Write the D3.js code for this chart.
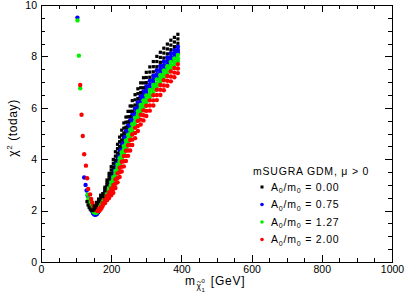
<!DOCTYPE html>
<html><head><meta charset="utf-8">
<script src="https://cdn.jsdelivr.net/npm/d3@7"></script>
<style>body{margin:0;background:#fff} svg{display:block;font-family:"Liberation Sans",Arial,Helvetica,sans-serif}</style>
</head><body><svg id="c" width="405" height="294"></svg>
<script>
// ---- data ----
const xMajor = [0,200,400,600,800,1000];
const yMajor = [0,2,4,6,8,10];
const massGrid = [176,182,188,194,200,206,212,218,224,230,236,242,248,254,260,268,276,284,292,300,310,320,330,340,350,360,370,380,390];

const black1 = [2.66,2.91,3.19,3.45,3.71,3.99,4.29,4.58,4.86,5.13,5.41,5.64,5.86,6.07,6.28,6.51,6.74,6.97,7.17,7.38,7.59,7.80,8.00,8.16,8.32,8.48,8.63,8.74,8.86];
const black2 = [2.60,2.84,3.09,3.34,3.58,3.84,4.12,4.41,4.68,4.94,5.21,5.44,5.65,5.86,6.07,6.31,6.55,6.78,6.97,7.18,7.39,7.60,7.80,7.96,8.13,8.29,8.44,8.56,8.68];
const black3 = [2.55,2.77,3.00,3.23,3.45,3.69,3.96,4.24,4.50,4.75,5.01,5.24,5.45,5.66,5.87,6.11,6.36,6.59,6.78,6.98,7.19,7.40,7.60,7.77,7.94,8.10,8.26,8.38,8.51];
const blackLow = [[131,2.35],[134,2.22],[137,2.13],[140,2.06],[143,2.02],[146,2.0],[149,2.02],[152,2.07],[155,2.13],[158,2.2],[161,2.27],[164,2.35],[167,2.42],[170,2.5],[173,2.57],[152,2.18],[158,2.32],[164,2.45],[170,2.6]];

const blue1 = [2.51,2.71,2.93,3.14,3.36,3.57,3.84,4.11,4.37,4.62,4.87,5.09,5.31,5.52,5.73,5.97,6.22,6.45,6.64,6.84,7.05,7.25,7.46,7.63,7.80,7.96,8.12,8.25,8.38];
const blue2 = [2.47,2.66,2.87,3.06,3.26,3.46,3.72,3.98,4.23,4.48,4.73,4.95,5.16,5.37,5.58,5.83,6.08,6.31,6.50,6.69,6.90,7.11,7.31,7.49,7.66,7.82,7.98,8.11,8.25];
const blue3 = [2.43,2.61,2.81,2.99,3.18,3.37,3.61,3.87,4.12,4.36,4.60,4.82,5.03,5.24,5.45,5.70,5.95,6.19,6.38,6.57,6.78,6.98,7.19,7.37,7.53,7.70,7.86,8.00,8.14];
const blueLow = [[103.7,9.51],[123,3.29],[127,3.0],[130,2.78],[133,2.58],[136,2.4],[139,2.24],[142,2.1],[145,1.99],[148,1.91],[151,1.86],[154,1.84],[157,1.85],[160,1.88],[163,1.94],[166,2.02],[169,2.12],[172,2.23],[174,2.3],[150,1.94],[156,1.93],[162,2.02],[167,2.16],[170,2.3],[173,2.4]];

const green1 = [2.41,2.58,2.76,2.94,3.12,3.30,3.54,3.79,4.04,4.27,4.51,4.73,4.94,5.15,5.36,5.61,5.87,6.11,6.29,6.48,6.69,6.89,7.10,7.28,7.45,7.62,7.78,7.92,8.06];
const green2 = [2.37,2.53,2.70,2.86,3.02,3.19,3.42,3.67,3.90,4.14,4.37,4.59,4.79,5.00,5.21,5.47,5.73,5.97,6.15,6.33,6.54,6.75,6.95,7.14,7.31,7.48,7.64,7.78,7.93];
const green3 = [2.34,2.48,2.64,2.79,2.94,3.09,3.31,3.56,3.79,4.02,4.24,4.46,4.67,4.88,5.09,5.34,5.61,5.85,6.02,6.21,6.42,6.62,6.83,7.01,7.19,7.36,7.52,7.67,7.82];
const greenLow = [[104,9.40],[108,8.03],[111.7,6.76],[132.6,2.62],[135,2.45],[138,2.3],[141,2.18],[144,2.08],[147,2.0],[150,1.95],[153,1.92],[156,1.91],[159,1.93],[162,1.98],[165,2.05],[168,2.13],[171,2.22],[174,2.3],[155,2.0],[161,2.06],[167,2.18],[172,2.3]];

const red1 = [2.30,2.44,2.58,2.72,2.86,3.00,3.21,3.45,3.67,3.90,4.12,4.33,4.54,4.75,4.96,5.22,5.49,5.73,5.90,6.08,6.29,6.49,6.70,6.89,7.07,7.24,7.41,7.55,7.70];
const red2 = [2.25,2.36,2.49,2.60,2.73,2.84,3.04,3.27,3.49,3.71,3.92,4.13,4.34,4.55,4.76,5.02,5.29,5.54,5.71,5.88,6.09,6.29,6.50,6.70,6.87,7.05,7.22,7.37,7.53];
const red3 = [2.19,2.29,2.40,2.49,2.60,2.69,2.88,3.10,3.31,3.52,3.72,3.93,4.13,4.34,4.55,4.82,5.10,5.35,5.51,5.68,5.89,6.09,6.30,6.50,6.68,6.86,7.03,7.19,7.35];
const redLow = [[111.7,6.89],[115.5,5.73],[119,4.9],[123,4.19],[128,3.75],[131.5,3.26],[134.4,2.84],[140,2.63],[143,2.45],[146,2.32],[149,2.2],[152,2.12],[155,2.06],[158,2.01],[161,1.98],[164,1.98],[167,2.0],[170,2.05],[173,2.11],[160,2.06],[166,2.08],[171,2.14]];

const legendTitle = "mSUGRA GDM, \u03bc > 0";
const a0Values = ["0.00","0.75","1.27","2.00"];

// ---- chart ----
const svg = d3.select("#c");
const x = d3.scaleLinear().domain([0,1000]).range([41,392]);
const y = d3.scaleLinear().domain([0,10]).range([262,5]);
const xMinor = d3.range(0,1001,50).filter(v => v % 200 !== 0);
const yMinor = d3.range(0,10.01,0.5).filter(v => v % 2 !== 0);

function addAxis(gen, tr, vals, size, labels, pad){
  const g = svg.append("g").attr("transform", tr)
    .call(gen.tickValues(vals).tickSize(size).tickSizeOuter(0).tickPadding(pad||3)
      .tickFormat(labels ? d3.format("d") : () => ""));
  g.select(".domain").remove();
  g.selectAll("line").attr("stroke","#000").attr("shape-rendering","crispEdges");
  g.selectAll("text").attr("font-size",10.5).attr("fill","#000")
    .attr("font-family",'"Liberation Sans",Arial,sans-serif');
  return g;
}
addAxis(d3.axisBottom(x), "translate(0,262)", xMajor, -7, true, 3.5);
addAxis(d3.axisBottom(x), "translate(0,262)", xMinor, -4, false);
addAxis(d3.axisTop(x), "translate(0,5)", xMajor, -7, false);
addAxis(d3.axisTop(x), "translate(0,5)", xMinor, -4, false);
addAxis(d3.axisLeft(y), "translate(41,0)", yMajor, -7, true, 4);
addAxis(d3.axisLeft(y), "translate(41,0)", yMinor, -4, false);
addAxis(d3.axisRight(y), "translate(392,0)", yMajor, -7, false);
addAxis(d3.axisRight(y), "translate(392,0)", yMinor, -4, false);

svg.append("rect").attr("x",x(0)).attr("y",y(10)).attr("width",x(1000)-x(0)).attr("height",y(0)-y(10))
  .attr("fill","none").attr("stroke","#000").attr("shape-rendering","crispEdges");

function pts(tracks, low){
  return tracks.flatMap(t => massGrid.map((m,i) => [m, t[i]])).concat(low);
}
const plot = svg.append("g");
function circles(data, color){
  plot.append("g").selectAll("circle").data(data).join("circle")
    .attr("cx", d => x(d[0])).attr("cy", d => y(d[1])).attr("r", 2.2).attr("fill", color);
}
function squares(data, color){
  plot.append("g").selectAll("rect").data(data).join("rect")
    .attr("x", d => x(d[0]) - 1.6).attr("y", d => y(d[1]) - 1.6)
    .attr("width", 3.2).attr("height", 3.2).attr("fill", color);
}
const colors = ["#000000","#0000ff","#00f000","#ff0000"];
circles(pts([blue1,blue2,blue3], blueLow), colors[1]);
circles(pts([green1,green2,green3], greenLow), colors[2]);
circles(pts([red1,red2,red3], redLow), colors[3]);
squares(pts([black1,black2,black3], blackLow), colors[0]);

// axis titles
const yt = svg.append("text").attr("transform","translate(17,128) rotate(-90)")
  .attr("text-anchor","middle").attr("font-size",12).attr("letter-spacing",0.6);
yt.append("tspan").text("\u03c7");
yt.append("tspan").attr("font-size",8).attr("dy",-5).text("2");
yt.append("tspan").attr("dy",5).text(" (today)");

const xt = svg.append("text").attr("x",185).attr("y",285).attr("font-size",12);
xt.append("tspan").text("m");
xt.append("tspan").attr("font-size",8.5).attr("dx",1.5).attr("dy",4).text("\u03c7");
xt.append("tspan").attr("font-size",6).attr("dx",0.5).attr("dy",-6).text("0");
xt.append("tspan").attr("font-size",6).attr("dx",-3.4).attr("dy",9).text("1");
xt.append("tspan").attr("dx",6).attr("dy",-7).attr("letter-spacing",0.8).text("[GeV]");
// tilde accent over the chi
svg.append("path").attr("d","M197.2,282.2 q1,-1.4 2.1,-0.3 q1.1,1.1 2.1,-0.3")
  .attr("fill","none").attr("stroke","#000").attr("stroke-width",0.7);

// legend
svg.append("text").attr("x",253).attr("y",174.5).attr("font-size",10.5).attr("letter-spacing",0.8).text(legendTitle);
const rowsY = [187,204.5,222,239.5];
a0Values.forEach((v,i) => {
  const cy = rowsY[i];
  if (i === 0) {
    plot.append("rect").attr("x",262-1.5).attr("y",cy-1.5).attr("width",3).attr("height",3).attr("fill",colors[0]);
  } else {
    plot.append("circle").attr("cx",262).attr("cy",cy).attr("r",1.8).attr("fill",colors[i]);
  }
  const t = svg.append("text").attr("x",271).attr("y",cy+3.5).attr("font-size",10.5).attr("letter-spacing",0.8);
  t.append("tspan").text("A");
  t.append("tspan").attr("font-size",7).attr("dy",2.5).text("0");
  t.append("tspan").attr("dy",-2.5).text("/m");
  t.append("tspan").attr("font-size",7).attr("dy",2.5).text("0");
  t.append("tspan").attr("dy",-2.5).text(" = " + v);
});
</script></body></html>
